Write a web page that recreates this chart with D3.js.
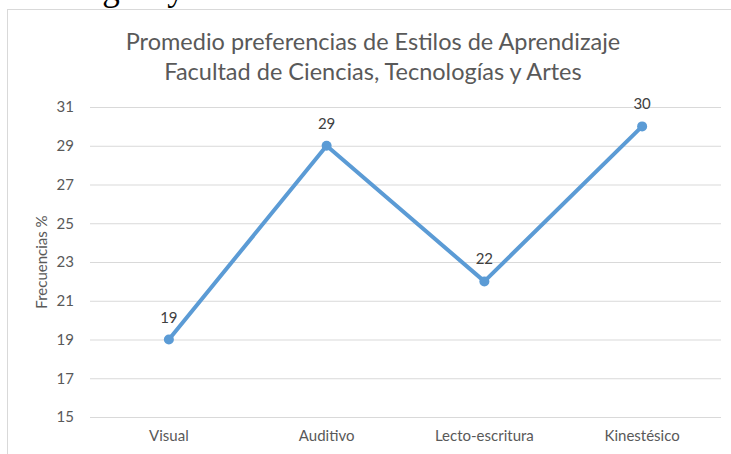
<!DOCTYPE html>
<html>
<head>
<meta charset="utf-8">
<script src="https://cdn.jsdelivr.net/npm/d3@7"></script>
<style>
  body { margin: 0; background: #fff; }
  .axis text { font-family: Lato, sans-serif; font-size: 15px; fill: #595959; }
  .grid line { stroke: #d9d9d9; stroke-width: 1; }
</style>
</head>
<body>
<svg id="chart" width="731" height="454"></svg>
<script>
var categories = ["Visual", "Auditivo", "Lecto-escritura", "Kinestésico"],
    values = [19, 29, 22, 30],
    yTicks = [15, 17, 19, 21, 23, 25, 27, 29, 31],
    titleLines = ["Promedio preferencias de Estilos de Aprendizaje", "Facultad de Ciencias, Tecnologías y Artes"];

var svg = d3.select("#chart"),
    margin = {top: 107, right: 10, bottom: 37, left: 90},
    width = +svg.attr("width") - margin.left - margin.right,
    height = +svg.attr("height") - margin.top - margin.bottom;

// cut off text of the page above the chart
svg.append("text")
  .attr("x", -10)
  .attr("y", 0)
  .style("font-family", "'Liberation Serif', serif")
  .style("font-size", "35px")
  .style("fill", "#000")
  .text("Tecnologías y Artes");

// chart frame
svg.append("rect")
  .attr("x", 7.5).attr("y", 9.5)
  .attr("width", 740).attr("height", 460)
  .attr("fill", "none")
  .attr("stroke", "#d9d9d9");

var g = svg.append("g").attr("transform", "translate(" + margin.left + "," + margin.top + ")");

var x = d3.scaleBand()
  .domain(categories)
  .range([0, width]);

var y = d3.scaleLinear()
  .domain([15, 31])
  .range([height, 0]);

// title
svg.append("g").selectAll("text")
  .data(titleLines)
  .enter().append("text")
  .attr("x", 373)
  .attr("y", (d, i) => 50 + i * 30)
  .attr("text-anchor", "middle")
  .style("font-family", "Lato, sans-serif")
  .style("font-size", "23.5px")
  .style("fill", "#595959")
  .text(d => d);

// gridlines
g.append("g")
  .attr("class", "grid")
  .call(d3.axisLeft(y).tickValues(yTicks).tickSize(-width).tickFormat(""))
  .call(s => s.select(".domain").remove());

// y axis labels
g.append("g")
  .attr("class", "axis")
  .call(d3.axisLeft(y).tickValues(yTicks).tickSize(0).tickPadding(16))
  .call(s => s.select(".domain").remove());

// x axis labels
g.append("g")
  .attr("class", "axis")
  .attr("transform", "translate(0," + height + ")")
  .call(d3.axisBottom(x).tickSize(0).tickPadding(13))
  .call(s => s.select(".domain").remove());

// y axis title
svg.append("text")
  .attr("transform", "translate(47," + (y(23) + margin.top) + ") rotate(-90)")
  .attr("text-anchor", "middle")
  .style("font-family", "Lato, sans-serif")
  .style("font-size", "15px")
  .style("fill", "#595959")
  .text("Frecuencias %");

var line = d3.line()
  .x((d, i) => x(categories[i]) + x.bandwidth() / 2)
  .y(d => y(d));

g.append("path")
  .datum(values)
  .attr("fill", "none")
  .attr("stroke", "#5b9bd5")
  .attr("stroke-width", 4)
  .attr("stroke-linejoin", "round")
  .attr("d", line);

g.selectAll(".dot")
  .data(values)
  .enter().append("circle")
  .attr("cx", (d, i) => x(categories[i]) + x.bandwidth() / 2)
  .attr("cy", d => y(d))
  .attr("r", 5)
  .attr("fill", "#5b9bd5");

g.selectAll(".lbl")
  .data(values)
  .enter().append("text")
  .attr("x", (d, i) => x(categories[i]) + x.bandwidth() / 2)
  .attr("y", d => y(d) - 17)
  .attr("text-anchor", "middle")
  .style("font-family", "Lato, sans-serif")
  .style("font-size", "15px")
  .style("fill", "#404040")
  .text(d => d);
</script>
</body>
</html>
